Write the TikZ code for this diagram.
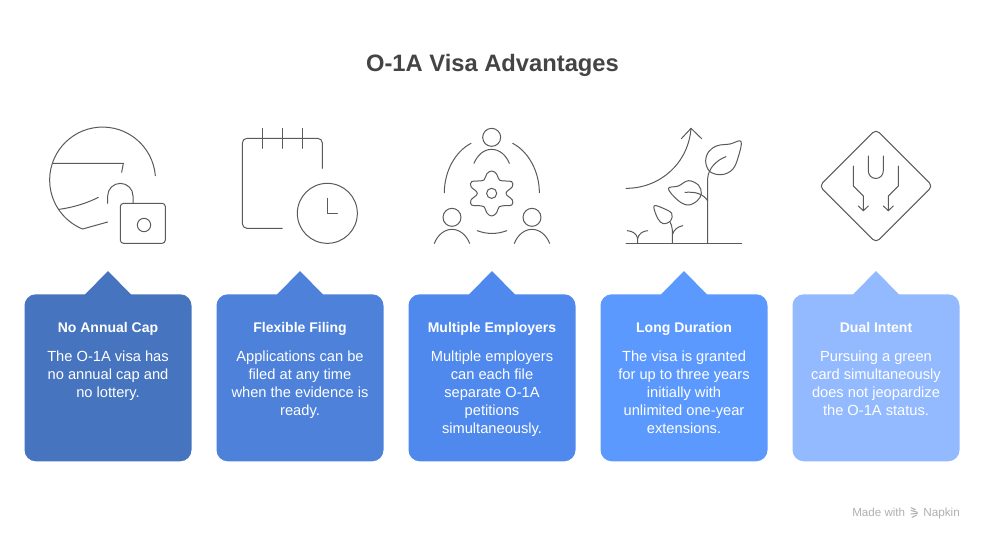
\documentclass[tikz,border=0pt]{standalone}
\usepackage{fontspec}
\setmainfont{Liberation Sans}
\definecolor{cardA}{HTML}{4674BE}
\definecolor{cardB}{HTML}{4D81DA}
\definecolor{cardC}{HTML}{4F89EE}
\definecolor{cardD}{HTML}{5C99FF}
\definecolor{cardE}{HTML}{93B9FF}
\definecolor{ink}{HTML}{444444}
\definecolor{iconline}{HTML}{5A5A5A}
\definecolor{wmgray}{HTML}{B0B0B0}
\tikzset{
  cardbox/.style={rectangle,rounded corners=8.5pt,minimum width=125.25pt,minimum height=125.25pt,inner sep=0pt},
  cardhead/.style={font=\fontsize{10.5pt}{13.5pt}\selectfont\bfseries,text=white,inner sep=0pt,anchor=base},
  cardbody/.style={font=\fontsize{11pt}{13.5pt}\selectfont,text=white,align=center,inner sep=0pt,anchor=north},
  icon/.style={draw=iconline,line width=0.75pt,line cap=round,line join=round},
  zoomed/.style={x=0.25pt,y=-0.25pt}
}
\newcommand{\infocard}[6]{%
  \fill[#3] (#2-23.5,295) -- (#2,271) -- (#2+23.5,295) -- cycle;
  \node[cardbox,fill=#3] (#1) at (#2,377.8) {};
  \node[cardhead] (#1head) at (#2,332) {#4};
  \node[cardbody] (#1body) at (#2,350.6) {#5};
}
\newcommand{\person}[2]{%
  \draw[icon] (#1,#2) circle[radius=6.75pt];
  \draw[icon] (#1-53,#2+78) .. controls (#1-43,#2+53) and (#1-23,#2+36) .. (#1,#2+36)
     .. controls (#1+23,#2+36) and (#1+43,#2+53) .. (#1+53,#2+78);
}
\begin{document}
\begin{tikzpicture}[x=0.75pt,y=-0.75pt]
\useasboundingbox (0,0) rectangle (984,540);
\fill[white] (0,0) rectangle (984,540);
\node[font=\fontsize{17.8pt}{22pt}\selectfont\bfseries,text=ink,inner sep=0pt,anchor=base] (title) at (492.5,71.5) {O-1A Visa Advantages};

\infocard{capcard}{108}{cardA}{No Annual Cap}{The O-1A visa has\\no annual cap and\\no lottery.}{}
\infocard{filecard}{300}{cardB}{Flexible Filing}{Applications can be\\filed at any time\\when the evidence is\\ready.}{}
\infocard{empcard}{492}{cardC}{Multiple Employers}{Multiple employers\\can each file\\separate O-1A\\petitions\\simultaneously.}{}
\infocard{durcard}{684}{cardD}{Long Duration}{The visa is granted\\for up to three years\\initially with\\unlimited one-year\\extensions.}{}
\infocard{dualcard}{876}{cardE}{Dual Intent}{Pursuing a green\\card simultaneously\\does not jeopardize\\the O-1A status.}{}

% icon 1: globe and lock
\begin{scope}[shift={(30,110)},zoomed]
\draw[icon] (376,197) arc[start angle=4.7,end angle=247.8,radius=39.7pt] -- (233,336);
\draw[icon] (70,160) -- (280,160) -- (275,187);
\draw[icon] (88,298) .. controls (130,292) and (170,280) .. (205,262);
\draw[icon] (233,280) -- (233,258) arc[start angle=180,end angle=0,radius=9.5pt] -- (309,280);
\draw[icon,rounded corners=2.4pt] (271,280) rectangle (406,400);
\draw[icon] (342,345) circle[radius=5pt];
\end{scope}

% icon 2: calendar and clock
\begin{scope}[shift={(225,110)},zoomed]
\draw[icon,rounded corners=3.5pt] (292,175) -- (292,85) -- (52,85) -- (52,355) -- (172,355);
\foreach \tx in {112,172,232} \draw[icon] (\tx,55) -- (\tx,115);
\draw[icon] (307,310) circle[radius=22.5pt];
\draw[icon] (307,265) -- (307,310) -- (337,310);
\end{scope}

% icon 3: people and gear
\begin{scope}[shift={(420,110)},zoomed]
\person{215}{82}
\person{96}{322}
\person{336}{322}
\draw[icon] (73,248) .. controls (73,185) and (105,125) .. (153,100);
\draw[icon] (358,248) .. controls (358,185) and (326,125) .. (278,100);
\draw[icon] (172,362) .. controls (200,373) and (232,373) .. (260,362);
\draw[icon] (215,250) circle[radius=3.8pt];
\draw[icon] plot[smooth cycle,tension=0.7] coordinates {
 (215,183) (230,192) (238,210) (258,213) (275,215) (277,230) (258,250) (277,270) (275,285) (258,287) (238,290) (230,308)
 (215,318) (200,308) (192,290) (172,287) (155,285) (153,270) (172,250) (153,230) (155,215) (172,213) (192,210) (200,192)};
\end{scope}

% icon 4: growth
\begin{scope}[shift={(610,110)},zoomed]
\draw[icon] (48,400) -- (395,400);
\draw[icon] (48,235) .. controls (150,235) and (235,160) .. (243,55);
\draw[icon] (214,86) -- (243,55) -- (275,86);
\draw[icon] (293,400) -- (293,205) .. controls (295,175) and (320,150) .. (348,140);
\draw[icon] plot[smooth cycle,tension=0.6] coordinates {(393,94) (360,102) (322,107) (296,125) (287,155) (300,185) (335,194) (368,178) (385,140)};
\draw[icon] plot[smooth cycle,tension=0.6] coordinates {(175,236) (205,228) (235,212) (265,225) (274,250) (262,272) (235,285) (205,272)};
\draw[icon] (225,247) .. controls (255,245) and (278,250) .. (293,272);
\draw[icon] plot[smooth cycle,tension=0.6] coordinates {(132,288) (160,295) (185,310) (182,332) (160,341) (143,325)};
\draw[icon] (187,400) -- (187,360) .. controls (187,350) and (183,342) .. (180,336);
\draw[icon] (187,375) .. controls (190,360) and (203,350) .. (218,347);
\draw[icon] (83,400) -- (83,385) .. controls (80,372) and (68,363) .. (52,362);
\draw[icon] (83,385) .. controls (86,372) and (98,363) .. (113,362);
\end{scope}

% icon 5: road sign
\begin{scope}[shift={(800,110)},zoomed]
\draw[icon,rounded corners=3.5pt] (228,58) -- (398,228) -- (228,398) -- (58,228) -- cycle;
\draw[icon] (205,138) -- (205,183) arc[start angle=180,end angle=360,radius=5.6pt] -- (250,138);
\draw[icon] (160,168) -- (160,228) -- (190,258) -- (190,302);
\draw[icon] (175,288) -- (190,302) -- (205,288);
\draw[icon] (295,168) -- (295,228) -- (265,258) -- (265,302);
\draw[icon] (250,288) -- (265,302) -- (280,288);
\end{scope}

% watermark
\node[font=\fontsize{8.7pt}{10pt}\selectfont,text=wmgray,inner sep=0pt,anchor=base west] (made) at (852,516) {Made with};
\node[font=\fontsize{8.8pt}{10pt}\selectfont,text=wmgray,inner sep=0pt,anchor=base west] (napkin) at (923,516) {Napkin};
\begin{scope}[shift={(830,495)},zoomed]
\draw[wmgray,line width=0.8pt,line cap=round] (243,38) -- (256,44);
\draw[wmgray,line width=0.8pt,line cap=round] (243,46) -- (262,52);
\draw[wmgray,line width=0.8pt,line cap=round] (243,57) -- (262,55);
\draw[wmgray,line width=0.8pt,line cap=round] (246,67) -- (260,60);
\end{scope}
\end{tikzpicture}
\end{document}
